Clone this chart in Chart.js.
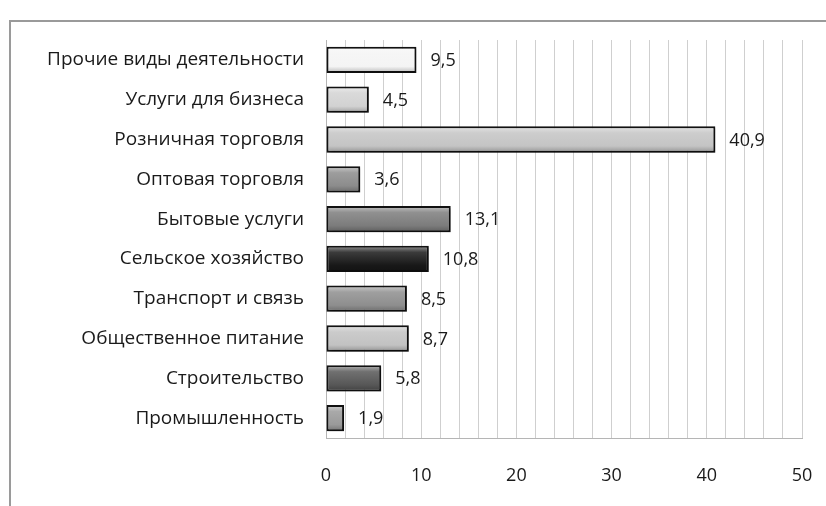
<!DOCTYPE html>
<html><head><meta charset="utf-8">
<script src="https://cdn.jsdelivr.net/npm/chart.js@4"></script>
<style>html,body{margin:0;padding:0;background:#fff}#wrap{width:826px;height:506px;position:relative}</style>
</head><body><div id="wrap"><canvas id="c"></canvas></div>
<script>
const categories = ["Прочие виды деятельности","Услуги для бизнеса","Розничная торговля","Оптовая торговля","Бытовые услуги","Сельское хозяйство","Транспорт и связь","Общественное питание","Строительство","Промышленность"];
const values = [9.5,4.5,40.9,3.6,13.1,10.8,8.5,8.7,5.8,1.9];
const barColors = ["#f4f4f4","#d2d2d2","#c4c4c4","#8c8c8c","#7c7c7c","#181818","#8e8e8e","#c2c2c2","#575757","#9a9a9a"];
const xTicks = [0,10,20,30,40,50];

function shade(hex, amt){
  const n = parseInt(hex.slice(1),16);
  let r=(n>>16)&255,g=(n>>8)&255,b=n&255;
  const f = c => Math.max(0,Math.min(255,Math.round(amt>0? c+(255-c)*amt : c*(1+amt))));
  return `rgb(${f(r)},${f(g)},${f(b)})`;
}
function barBg(ctx){
  const chart = ctx.chart, i = ctx.dataIndex, base = barColors[i];
  const ys = chart.scales && chart.scales.y;
  if(!ys || !chart.chartArea || ys.getPixelForValue(i)==null || isNaN(ys.getPixelForValue(i))) return base;
  const cy = ys.getPixelForValue(i);
  const h = ys.height/categories.length*0.66;
  const g = chart.ctx.createLinearGradient(0, cy-h/2, 0, cy+h/2);
  g.addColorStop(0, shade(base,0.55));
  g.addColorStop(0.25, shade(base,0.15));
  g.addColorStop(0.75, base);
  g.addColorStop(1, shade(base,-0.25));
  return g;
}

const framePlugin = {
  id:'frame',
  beforeDraw(chart){
    const c = chart.ctx; c.save();
    c.strokeStyle = '#9a9a9a'; c.lineWidth = 2;
    c.beginPath(); c.moveTo(826,21); c.lineTo(10,21); c.lineTo(10,506); c.stroke();
    c.restore();
  },
  beforeDatasetsDraw(chart){
    const c = chart.ctx; c.save();
    c.shadowColor='rgba(0,0,0,0.35)'; c.shadowBlur=3; c.shadowOffsetX=2; c.shadowOffsetY=2;
    chart._shadowSaved = true;
  },
  afterDatasetsDraw(chart){
    const c = chart.ctx;
    if(chart._shadowSaved){ c.restore(); chart._shadowSaved=false; }
    c.save();
    c.font = '18px "Open Sans", sans-serif';
    c.fillStyle = '#1a1a1a'; c.textAlign='left'; c.textBaseline='middle';
    const meta = chart.getDatasetMeta(0);
    meta.data.forEach((el,i)=>{
      c.fillText(String(values[i]).replace('.',','), el.x + 14, el.y + 1);
    });
    c.restore();
  }
};

new Chart(document.getElementById('c'), {
  type:'bar',
  data:{ labels: categories, datasets:[{ data: values, backgroundColor: barBg, borderColor:'#111', borderWidth:2, borderSkipped:false, barPercentage:0.66, categoryPercentage:1 }]},
  options:{
    indexAxis:'y', responsive:true, maintainAspectRatio:false, animation:false,
    layout:{ padding:{ left:0, right:24, top:40, bottom:0 } },
    plugins:{ legend:{display:false}, tooltip:{enabled:false} },
    scales:{
      x:{ min:0, max:50,
        ticks:{ stepSize:2, autoSkip:false, maxRotation:0, padding:27, color:'#1a1a1a', font:{family:'"Open Sans", sans-serif', size:18},
          callback:(v)=> xTicks.includes(v) ? String(v) : '' },
        grid:{ color:'#cfcfcf', lineWidth:1, drawTicks:false },
        border:{ color:'#b5b5b5', width:1 },
        afterFit(s){ s.height = 68; s.paddingRight = 0; s.paddingLeft = 0; }
      },
      y:{
        ticks:{ padding:22, color:'#1a1a1a', font:{family:'"Open Sans", sans-serif', size:19} },
        grid:{ display:false, drawTicks:false },
        border:{ color:'#b5b5b5', width:1 },
        afterFit(s){ s.width = 326; }
      }
    }
  },
  plugins:[framePlugin]
});
</script></body></html>
